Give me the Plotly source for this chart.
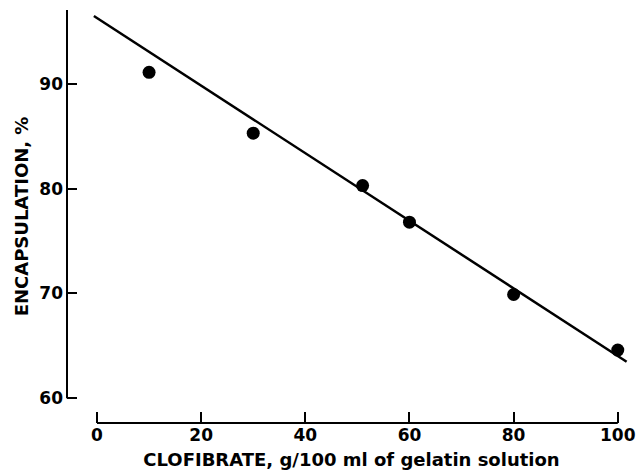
import plotly.graph_objects as go

# Data
clofibrate = [10, 30, 51, 60, 80, 100]
encapsulation = [91.1, 85.3, 80.3, 76.8, 69.9, 64.6]

# Fitted line end points (as drawn)
fit_x = [-0.6, 101.7]
fit_y = [96.48, 63.49]

x_ticks = [0, 20, 40, 60, 80, 100]
y_ticks = [60, 70, 80, 90]

x_range = [-5.76, 103.5]
y_range = [57.64, 97.05]

FONT = "DejaVu Sans"

fig = go.Figure()
fig.add_trace(go.Scatter(x=fit_x, y=fit_y, mode="lines",
                         line=dict(color="black", width=2.5),
                         showlegend=False, hoverinfo="skip"))
fig.add_trace(go.Scatter(x=clofibrate, y=encapsulation, mode="markers",
                         marker=dict(color="black", size=13),
                         showlegend=False))

# partial axis lines (detached axes as in the reference)
fig.add_shape(type="line", xref="x", yref="paper",
              x0=x_ticks[0], x1=x_ticks[-1], y0=0, y1=0,
              line=dict(color="black", width=2))
fig.add_shape(type="line", xref="paper", yref="y",
              x0=0, x1=0, y0=y_ticks[0], y1=y_range[1],
              line=dict(color="black", width=2))

fig.update_xaxes(range=x_range, tickvals=x_ticks, ticks="inside",
                 ticklen=11, tickwidth=2, tickcolor="black",
                 showline=False, showgrid=False, zeroline=False,
                 tickfont=dict(family=FONT, size=17, color="black", weight="bold"),
                 title=dict(text="CLOFIBRATE, g/100 ml of gelatin solution",
                            font=dict(family=FONT, size=18, color="black", weight="bold"),
                            standoff=10))
fig.update_yaxes(range=y_range, tickvals=y_ticks, ticks="inside",
                 ticklen=10, tickwidth=2, tickcolor="black",
                 showline=False, showgrid=False, zeroline=False,
                 ticklabelstandoff=3,
                 tickfont=dict(family=FONT, size=17, color="black", weight="bold"),
                 title=dict(text="ENCAPSULATION, %",
                            font=dict(family=FONT, size=18, color="black", weight="bold"),
                            standoff=6))

fig.update_layout(width=638, height=470,
                  margin=dict(l=67, r=2, t=10, b=47, autoexpand=False),
                  plot_bgcolor="white", paper_bgcolor="white",
                  font=dict(family=FONT, color="black"))

fig.write_html("out.html", config={"displayModeBar": False},
               post_script="document.body.style.margin='0';document.body.style.padding='0';")
